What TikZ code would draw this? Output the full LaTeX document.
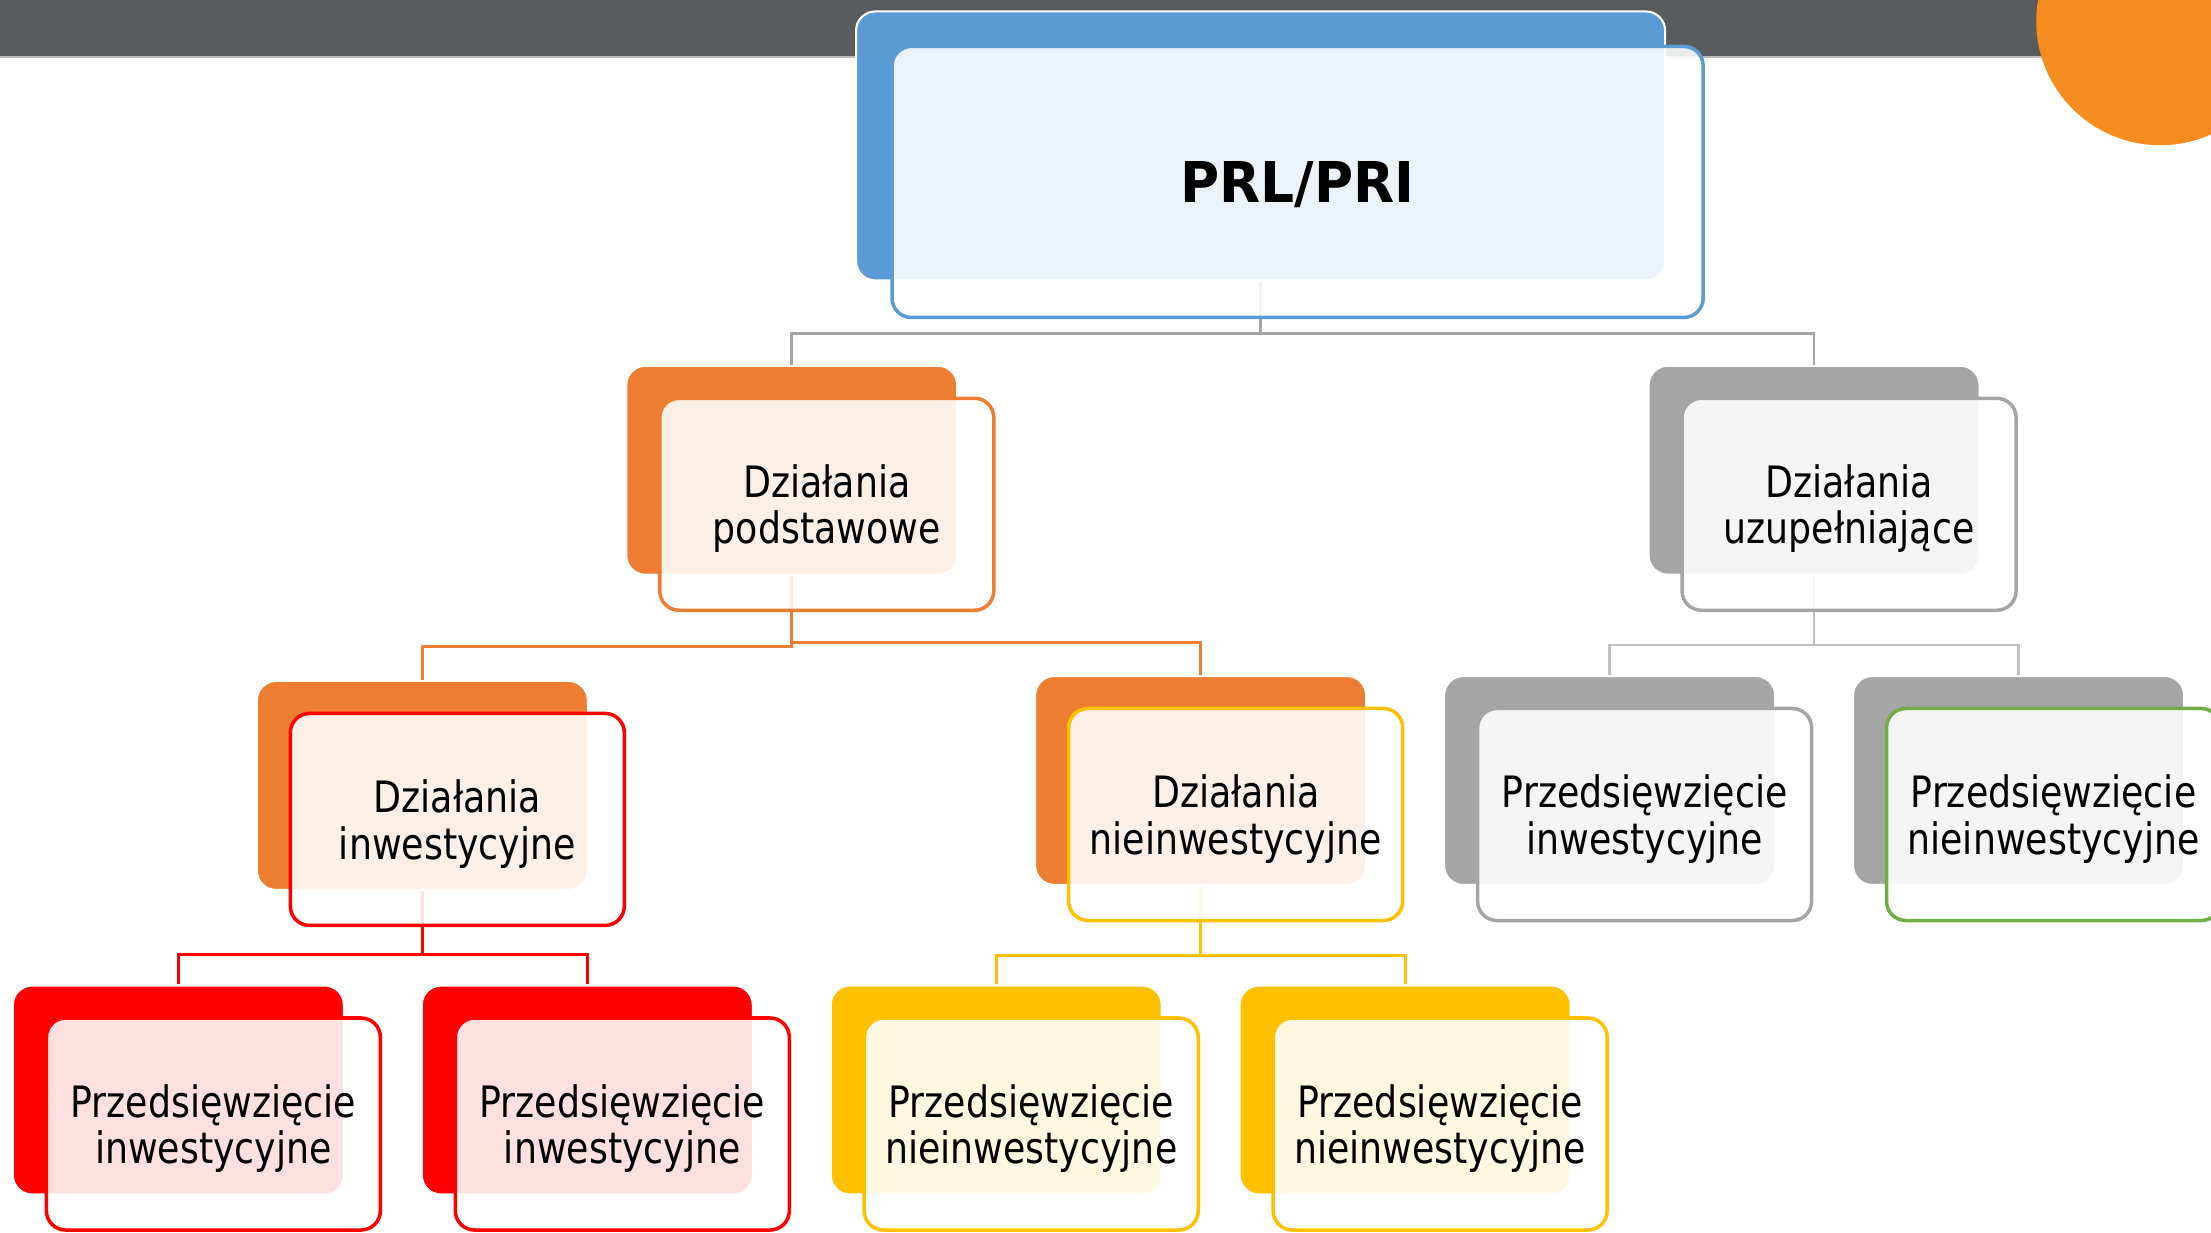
\documentclass[tikz,border=0pt]{standalone}
\usepackage{fontspec}
\setmainfont{DejaVu Sans}[FakeStretch=0.84]
\newfontfamily\prlfont{DejaVu Sans}[FakeStretch=0.95]
\usepackage{tikz}
\definecolor{bargray}{rgb}{0.353, 0.357, 0.365}
\definecolor{prlblue}{rgb}{0.357, 0.608, 0.835}
\definecolor{dporange}{rgb}{0.929, 0.49, 0.192}
\definecolor{invred}{rgb}{1, 0, 0}
\definecolor{nonyellow}{rgb}{1, 0.753, 0}
\definecolor{supgray}{rgb}{0.647, 0.647, 0.647}
\definecolor{linkgray}{rgb}{0.75, 0.75, 0.75}
\definecolor{supgreen}{rgb}{0.439, 0.678, 0.278}
\definecolor{cornerorange}{rgb}{0.965, 0.545, 0.122}

\begin{document}
\begin{tikzpicture}[x=0.0141cm, y=-0.0141cm,
		back/.style={draw=white, line width=0.6pt, rounded corners=5.5pt, inner sep=0pt, minimum width=3.31cm, minimum height=2.09cm},
		front/.style={fill=white, fill opacity=0.88, text opacity=1, line width=1pt, rounded corners=5.5pt, inner sep=0pt, minimum width=3.34cm, minimum height=2.12cm, align=center, text depth=0pt, font={\fontsize{12.3}{13.2}\selectfont}},
		link/.style={line width=0.8pt}]
	\useasboundingbox (0,0) rectangle (1568,874);

	% draws the header bar and the corner disc
	\fill[bargray] (0,0) rectangle (1568,40);
	\draw[gray!55, line width=0.6pt] (0,40.5) -- (1568,40.5);
	\fill[cornerorange] (1532,15) circle (1.24cm);

	% draws the back boxes
	\node[back, fill=prlblue, minimum width=8.09cm, minimum height=2.69cm] (prl-b) at (894,103.5) {};
	\foreach \name/\x/\y/\col in {dp/561.5/333.5/dporange, du/1286.5/333.5/supgray,
			di/299.5/557/dporange, dn/851.5/553.5/dporange, ui/1141.5/553.5/supgray, un/1431.5/553.5/supgray,
			ii/126.5/773/invred, ij/416.5/773/invred, ni/706.5/773/nonyellow, nj/996.5/773/nonyellow}
		\node[back, fill=\col] (\name-b) at (\x,\y) {};

	% draws the links
	\draw[link, supgray] (prl-b.south) -- ++(0,37) -| (dp-b.north);
	\draw[link, supgray] (prl-b.south) -- ++(0,37) -| (du-b.north);
	\draw[link, dporange] (dp-b.south) -- ++(0,50) -| (di-b.north);
	\draw[link, dporange] (dp-b.south) -- ++(0,47) -| (dn-b.north);
	\draw[link, linkgray] (du-b.south) -- ++(0,49) -| (ui-b.north);
	\draw[link, linkgray] (du-b.south) -- ++(0,49) -| (un-b.north);
	\draw[link, invred] (di-b.south) -- ++(0,45) -| (ii-b.north);
	\draw[link, invred] (di-b.south) -- ++(0,45) -| (ij-b.north);
	\draw[link, nonyellow] (dn-b.south) -- ++(0,49) -| (ni-b.north);
	\draw[link, nonyellow] (dn-b.south) -- ++(0,49) -| (nj-b.north);

	% draws the front boxes with their texts
	\node[front, draw=prlblue, minimum width=8.11cm, minimum height=2.71cm, font={\prlfont\bfseries\fontsize{16}{19}\selectfont}] (prl) at ([xshift=0.37cm, yshift=-0.36cm]prl-b.center) {PRL/PRI};
	\foreach \name/\col/\lineA/\lineB in {dp/dporange/Działania/podstawowe, du/supgray/Działania/uzupełniające,
			di/invred/Działania/inwestycyjne, dn/nonyellow/Działania/nieinwestycyjne,
			ui/supgray/Przedsięwzięcie/inwestycyjne, un/supgreen/Przedsięwzięcie/nieinwestycyjne,
			ii/invred/Przedsięwzięcie/inwestycyjne, ij/invred/Przedsięwzięcie/inwestycyjne,
			ni/nonyellow/Przedsięwzięcie/nieinwestycyjne, nj/nonyellow/Przedsięwzięcie/nieinwestycyjne}
		\node[front, draw=\col] (\name) at ([xshift=0.35cm, yshift=-0.34cm]\name-b.center) {\lineA\\\lineB};
\end{tikzpicture}
\end{document}
